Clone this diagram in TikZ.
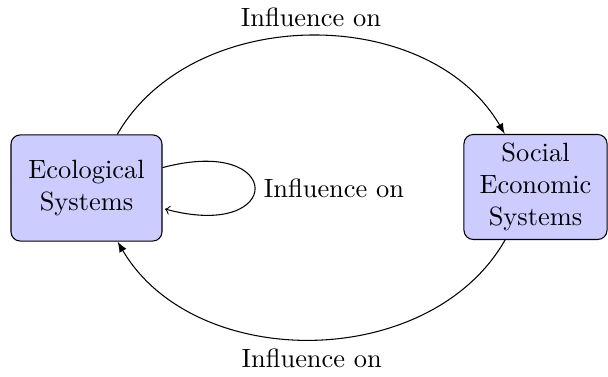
\documentclass[tikz,border=0pt]{standalone}
\usetikzlibrary{arrows}
\begin{document}
\begin{tikzpicture}[x=0.3788pt,y=-0.3788pt,
  sysbox/.style={draw, rounded corners=3.5pt, fill=blue!20, align=center, inner sep=3.33pt},
  flow/.style={-latex, bend left=60},
  selfflow/.style={->}]
\useasboundingbox (0,0) rectangle (608,377);
\node[sysbox, minimum width=57.2pt, minimum height=40.2pt] (eco) at (86.5,188) {Ecological\\Systems};
\node[sysbox, minimum width=54.2pt, minimum height=39.4pt] (soc) at (535.5,187) {Social\\Economic\\Systems};
\path (eco) edge[flow] node[above] {Influence on} (soc);
\path (soc) edge[flow] node[below] {Influence on} (eco);
\path (eco) edge[selfflow, loop right] node[right] {Influence on} (eco);
\end{tikzpicture}
\end{document}
